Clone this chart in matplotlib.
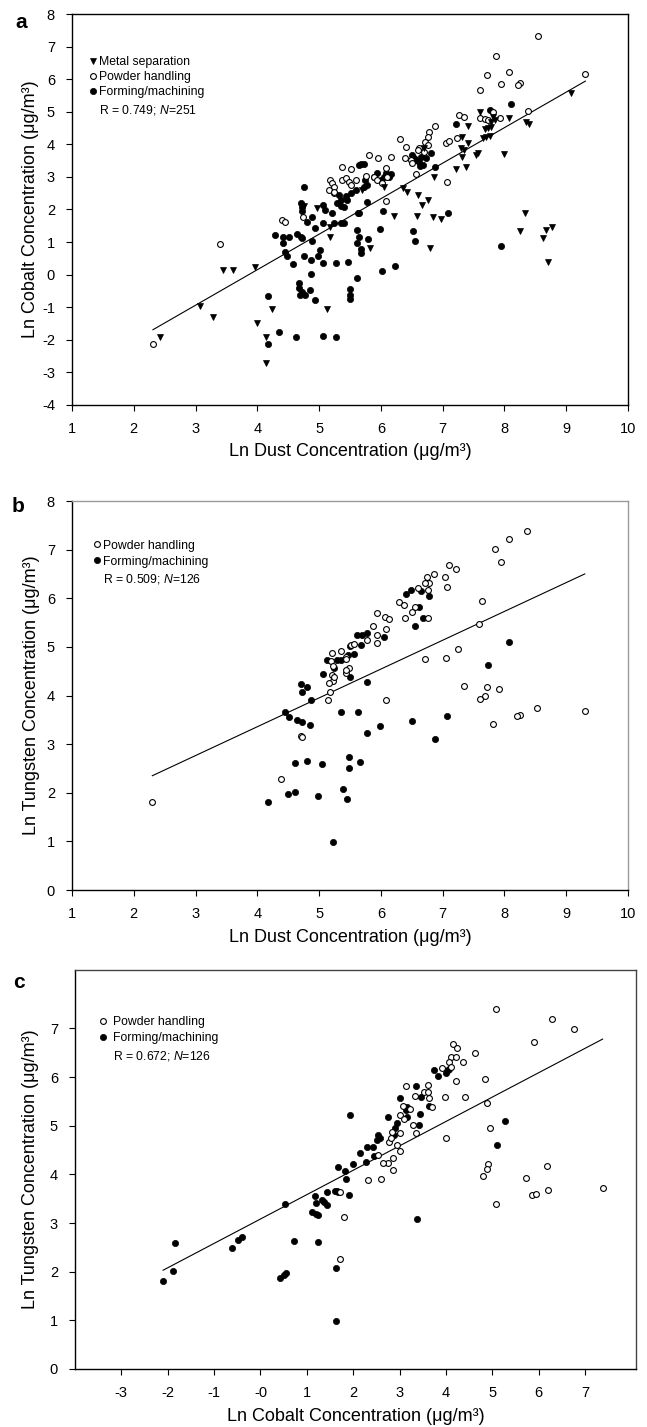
import matplotlib
matplotlib.use('Agg')
import matplotlib.pyplot as plt
from matplotlib.lines import Line2D

plt.rcParams['font.family'] = ['Liberation Sans', 'DejaVu Sans']
plt.rcParams['mathtext.fontset'] = 'custom'
plt.rcParams['mathtext.rm'] = 'Liberation Sans'
plt.rcParams['mathtext.it'] = 'Liberation Sans:italic'
plt.rcParams['axes.unicode_minus'] = False

# ---------------- Panel a : Ln dust (x) vs Ln cobalt (y) ----------------
a_metal_x = [2.42, 3.07, 3.29, 3.44, 3.60, 3.96, 4.00, 4.14, 4.14, 4.24, 5.12, 5.17, 5.18, 4.75, 4.96,
             9.07, 8.35, 8.39, 7.60, 7.82, 7.84, 7.79, 8.07, 7.68, 7.73, 7.79, 7.65, 7.70, 7.76, 7.41,
             7.32, 7.30, 7.35, 7.32, 7.41, 7.57, 7.54, 7.99, 7.22, 7.38, 6.86, 6.70, 6.60, 6.67, 6.77,
             6.58, 6.80, 6.85, 6.97, 6.21, 8.33, 8.25, 8.63, 8.68, 8.77, 8.71, 5.82, 6.35, 6.43, 5.70, 6.05]
a_metal_y = [-1.92, -0.95, -1.29, 0.13, 0.13, 0.23, -1.47, -1.90, -2.70, -1.05, -1.04, 1.17, 1.47, 2.10, 2.04,
             5.57, 4.70, 4.63, 5.00, 4.85, 4.75, 4.70, 4.82, 4.46, 4.49, 4.52, 4.19, 4.24, 4.26, 4.56,
             4.24, 3.88, 3.83, 3.62, 4.03, 3.73, 3.67, 3.71, 3.24, 3.29, 2.99, 3.88, 2.45, 2.14, 2.29,
             1.80, 0.83, 1.76, 1.71, 1.80, 1.90, 1.34, 1.12, 1.37, 1.47, 0.38, 0.83, 2.65, 2.55, 2.60, 2.70]

a_powder_x = [2.31, 3.40, 4.40, 4.45, 4.74, 5.37, 5.51, 5.18, 5.21, 5.24, 5.16, 5.24, 5.37, 5.43, 5.48,
              5.59, 5.51, 8.54, 7.86, 8.08, 7.72, 9.31, 7.95, 8.25, 8.22, 7.61, 8.38, 7.26, 7.34, 7.82,
              7.60, 7.68, 7.73, 7.92, 6.87, 6.78, 6.76, 6.72, 6.76, 6.62, 6.31, 6.40, 7.05, 7.11, 7.23,
              7.07, 6.39, 6.48, 6.51, 6.60, 6.70, 6.57, 6.09, 5.81, 5.96, 6.16, 5.89, 5.76, 5.94, 6.02,
              6.08, 6.10, 5.24]
a_powder_y = [-2.13, 0.94, 1.68, 1.61, 1.76, 3.30, 3.25, 2.91, 2.81, 2.70, 2.60, 2.52, 2.91, 2.96, 2.83,
              2.91, 2.76, 7.33, 6.71, 6.23, 6.13, 6.16, 5.84, 5.89, 5.82, 5.67, 5.03, 4.90, 4.85, 5.00,
              4.82, 4.78, 4.75, 4.82, 4.57, 4.37, 4.22, 4.08, 3.98, 3.88, 4.17, 3.93, 4.05, 4.10, 4.19,
              2.84, 3.57, 3.52, 3.44, 3.83, 3.78, 3.09, 2.26, 3.67, 3.59, 3.62, 3.01, 3.03, 2.91, 2.81,
              3.27, 3.01, 2.55]

a_forming_x = [4.18, 4.17, 4.35, 4.63, 5.07, 5.27, 4.93, 4.67, 4.67, 4.69, 4.77, 4.85, 4.72, 5.50, 5.50,
               5.62, 4.48, 4.58, 4.75, 4.87, 4.99, 5.02, 5.07, 5.27, 5.46, 4.87, 4.45, 4.28, 4.42, 4.42,
               4.52, 4.65, 4.70, 4.72, 4.88, 4.93, 5.07, 5.24, 5.40, 4.80, 4.72, 4.72, 4.70, 4.89, 5.07,
               5.10, 4.75, 5.21, 5.32, 5.35, 5.35, 5.43, 5.51, 5.45, 5.59, 5.29, 5.40, 5.64, 5.64, 5.62,
               5.64, 5.62, 8.10, 7.76, 7.22, 6.87, 6.51, 6.57, 6.62, 6.68, 6.64, 6.54, 6.65, 6.73, 6.81,
               7.09, 6.52, 6.55, 6.03, 5.99, 6.02, 6.23, 7.95, 5.79, 5.68, 5.68, 5.63, 5.78, 5.73, 5.78,
               5.75, 5.89, 6.00, 6.05, 6.13, 6.16, 6.08, 5.94, 5.67, 5.73, 5.35, 5.50]
a_forming_y = [-2.13, -0.64, -1.75, -1.92, -1.88, -1.90, -0.77, -0.27, -0.42, -0.62, -0.62, -0.47, -0.52, -0.44, -0.74,
               -0.11, 0.56, 0.32, 0.56, 0.45, 0.56, 0.76, 0.35, 0.37, 0.40, 0.02, 0.71, 1.22, 1.17, 0.98,
               1.17, 1.24, 1.17, 1.12, 1.02, 1.44, 1.60, 1.60, 1.60, 1.63, 1.94, 2.09, 2.19, 1.78, 2.14,
               1.99, 2.68, 1.89, 2.45, 2.29, 2.11, 2.40, 2.50, 2.29, 2.60, 2.19, 2.09, 3.37, 1.89, 1.37,
               1.17, 0.97, 5.23, 5.06, 4.63, 3.29, 3.67, 3.52, 3.47, 3.37, 3.32, 3.57, 3.62, 3.57, 3.73,
               1.89, 1.34, 1.04, 1.96, 1.40, 0.10, 0.28, 0.89, 1.10, 0.80, 0.66, 1.90, 2.22, 2.70, 2.75,
               2.91, 3.01, 2.91, 3.01, 3.01, 3.09, 3.11, 3.11, 3.40, 3.40, 1.58, -0.62]

a_fit_x = [2.31, 9.31]
a_fit_y = [-1.69, 5.94]

# ---------------- Panel b : Ln dust (x) vs Ln tungsten (y) ----------------
b_powder_x = [2.30, 4.38, 4.70, 4.72, 5.14, 5.17, 5.21, 5.20, 5.23, 5.21, 5.23, 5.16, 5.36, 5.44, 5.48,
              5.44, 5.51, 5.57, 8.37, 8.08, 7.85, 7.94, 7.10, 7.22, 6.86, 7.03, 7.07, 6.74, 6.78, 6.71,
              6.76, 6.60, 6.29, 6.38, 6.55, 6.50, 6.39, 6.76, 5.94, 6.07, 6.13, 6.09, 5.88, 5.94, 5.94,
              5.77, 5.43, 5.24, 5.43, 6.08, 6.72, 7.05, 7.25, 7.59, 7.64, 7.34, 7.72, 7.68, 7.60, 7.91,
              8.53, 8.25, 8.20, 9.30, 7.81]
b_powder_y = [1.82, 2.28, 3.17, 3.14, 3.91, 4.08, 4.88, 4.70, 4.60, 4.42, 4.29, 4.25, 4.92, 4.80, 4.56,
              4.47, 5.04, 5.06, 7.39, 7.21, 7.01, 6.74, 6.69, 6.60, 6.50, 6.43, 6.23, 6.43, 6.32, 6.32,
              6.17, 6.21, 5.93, 5.86, 5.83, 5.71, 5.60, 5.59, 5.70, 5.62, 5.57, 5.36, 5.42, 5.25, 5.08,
              5.14, 4.75, 4.39, 4.53, 3.90, 4.75, 4.78, 4.96, 5.47, 5.95, 4.20, 4.18, 3.98, 3.93, 4.13,
              3.74, 3.60, 3.57, 3.68, 3.41]

b_forming_x = [4.17, 4.49, 4.61, 4.61, 4.81, 5.05, 4.99, 5.39, 5.45, 5.48, 5.48, 5.23, 5.66, 5.36, 5.63,
               4.45, 4.51, 4.64, 4.72, 4.86, 4.70, 4.72, 4.80, 4.87, 5.07, 5.13, 5.24, 5.29, 5.36, 5.46,
               5.56, 5.62, 5.50, 6.40, 6.49, 6.65, 6.78, 6.62, 6.68, 6.55, 5.70, 5.78, 6.05, 5.67, 5.50,
               5.77, 5.77, 5.98, 6.51, 7.07, 6.88, 8.08, 7.74]
b_forming_y = [1.82, 1.98, 2.02, 2.61, 2.65, 2.59, 1.93, 2.07, 1.87, 2.73, 2.50, 0.99, 2.64, 3.67, 3.67,
               3.67, 3.55, 3.50, 3.46, 3.40, 4.24, 4.08, 4.17, 3.91, 4.44, 4.73, 4.56, 4.73, 4.73, 4.84,
               4.86, 5.25, 5.01, 6.09, 6.16, 6.15, 6.04, 5.83, 5.60, 5.42, 5.25, 5.28, 5.21, 5.04, 4.39,
               4.27, 3.22, 3.37, 3.48, 3.58, 3.10, 5.10, 4.63]

b_fit_x = [2.30, 9.30]
b_fit_y = [2.35, 6.50]

# ---------------- Panel c : Ln cobalt (x) vs Ln tungsten (y) ----------------
c_powder_x = [1.71, 1.81, 1.72, 5.08, 6.29, 6.76, 5.89, 4.16, 4.24, 4.10, 4.21, 4.07, 4.36, 4.12, 4.62,
              3.91, 4.22, 4.84, 3.14, 3.33, 3.53, 3.62, 3.62, 3.63, 3.71, 3.98, 4.42, 3.08, 3.23, 3.01,
              3.10, 3.30, 3.35, 3.01, 2.83, 2.94, 2.78, 2.82, 3.01, 2.85, 2.76, 2.65, 2.85, 2.61, 2.31,
              2.54, 4.00, 4.88, 4.95, 4.91, 4.88, 4.80, 5.72, 6.17, 6.21, 5.86, 5.94, 5.08, 7.38]
c_powder_y = [2.27, 3.13, 3.63, 7.39, 7.20, 6.99, 6.72, 6.67, 6.59, 6.41, 6.41, 6.31, 6.31, 6.21, 6.50,
              6.19, 5.91, 5.95, 5.81, 5.61, 5.69, 5.83, 5.69, 5.56, 5.39, 5.59, 5.58, 5.40, 5.35, 5.21,
              5.13, 5.01, 4.85, 4.85, 4.87, 4.60, 4.67, 4.75, 4.48, 4.33, 4.24, 4.24, 4.09, 3.90, 3.88,
              4.39, 4.75, 5.46, 4.96, 4.21, 4.12, 3.97, 3.93, 4.17, 3.68, 3.57, 3.59, 3.40, 3.72]

c_forming_x = [-2.10, -1.89, -1.85, -0.62, -0.48, -0.39, 0.43, 0.50, 0.56, 0.54, 0.72, 1.24, 1.63, 1.63, 1.12,
               1.20, 1.25, 1.18, 1.20, 1.33, 1.36, 1.43, 1.43, 1.61, 1.68, 1.92, 1.67, 1.83, 1.84, 2.00,
               2.15, 1.94, 3.74, 3.83, 4.01, 4.05, 4.07, 3.35, 3.46, 3.01, 3.64, 3.44, 3.43, 2.76, 3.14,
               3.15, 3.17, 2.94, 2.90, 2.87, 2.54, 2.58, 2.51, 2.43, 2.30, 2.28, 2.45, 3.37, 5.11, 5.28,
               1.65]
c_forming_y = [1.81, 2.02, 2.58, 2.49, 2.65, 2.72, 1.86, 1.93, 1.98, 3.39, 2.63, 2.61, 2.07, 0.99, 3.22,
               3.18, 3.16, 3.55, 3.41, 3.48, 3.44, 3.37, 3.64, 3.65, 3.64, 3.57, 4.15, 4.07, 3.90, 4.22,
               4.43, 5.23, 6.14, 6.02, 6.09, 6.14, 6.17, 5.81, 5.59, 5.56, 5.40, 5.24, 5.02, 5.17, 5.32,
               5.18, 5.39, 5.05, 4.95, 4.81, 4.81, 4.74, 4.70, 4.57, 4.56, 4.26, 4.38, 3.08, 4.61, 5.09,
               3.66]

c_fit_x = [-2.10, 7.38]
c_fit_y = [2.03, 6.78]

ab_xticks = [1, 2, 3, 4, 5, 6, 7, 8, 9, 10]
a_yticks = [-4, -3, -2, -1, 0, 1, 2, 3, 4, 5, 6, 7, 8]
b_yticks = [0, 1, 2, 3, 4, 5, 6, 7, 8]
c_xticks = [-3, -2, -1, 0, 1, 2, 3, 4, 5, 6, 7]
c_xticklabels = ['-3', '-2', '-1', '-0', '1', '2', '3', '4', '5', '6', '7']
c_yticks = [0, 1, 2, 3, 4, 5, 6, 7]

# ---------------- drawing ----------------
W, H = 647, 1427
fig = plt.figure(figsize=(W / 100, H / 100), dpi=100)


def make_axes(l, r, t, b):
    return fig.add_axes([l / W, 1 - b / H, (r - l) / W, (b - t) / H])


FILLED = dict(ls='none', marker='o', ms=4.5, mfc='black', mec='black', mew=0.5)
OPEN = dict(ls='none', marker='o', ms=4.2, mfc='white', mec='black', mew=0.8)
TRI = dict(ls='none', marker='v', ms=4.8, mfc='black', mec='black', mew=0.5)
LEGFS = 8.8


def style(ax, top_color):
    for side in ['left', 'bottom']:
        ax.spines[side].set_linewidth(1.0)
        ax.spines[side].set_color('black')
    for side in ['top', 'right']:
        ax.spines[side].set_linewidth(1.0)
        ax.spines[side].set_color(top_color)
    ax.tick_params(direction='out', length=4.3, width=0.8, pad=8, labelsize=10.5,
                   top=False, right=False)


def labels(ax, xl, yl, xly, ylx):
    ax.set_xlabel(xl, fontsize=13)
    ax.set_ylabel(yl, fontsize=13)
    ax.xaxis.set_label_coords(0.5, xly)
    ax.yaxis.set_label_coords(ylx, 0.5)
    ax.xaxis.label.set_verticalalignment('center')
    ax.yaxis.label.set_verticalalignment('center')


def legend(ax, handles, names, anchor, spacing, textpad, rtext, rpos):
    ax.legend(handles, names, loc='upper left', bbox_to_anchor=anchor, frameon=False,
              fontsize=LEGFS, borderpad=0, borderaxespad=0, handlelength=0.8,
              handletextpad=textpad, labelspacing=spacing)
    ax.text(rpos[0], rpos[1], rtext, transform=ax.transAxes, fontsize=LEGFS,
            ha='left', va='center')


h_tri = Line2D([], [], **TRI)
h_open = Line2D([], [], **OPEN)
h_fill = Line2D([], [], **FILLED)

# Panel a
ax = make_axes(72, 628, 14, 405)
ax.plot(a_fit_x, a_fit_y, color='black', lw=0.8)
ax.plot(a_forming_x, a_forming_y, **FILLED)
ax.plot(a_powder_x, a_powder_y, **OPEN)
ax.plot(a_metal_x, a_metal_y, **TRI)
ax.set_xlim(1, 10)
ax.set_ylim(-4, 8)
ax.set_xticks(ab_xticks)
ax.set_yticks(a_yticks)
style(ax, 'black')
labels(ax, 'Ln Dust Concentration (\u03bcg/m\u00b3)', 'Ln Cobalt Concentration (\u03bcg/m\u00b3)', -0.120, -0.074)
legend(ax, [h_tri, h_open, h_fill], ['Metal separation', 'Powder handling', 'Forming/machining'],
       (0.029, 0.893), 0.25, 0.10, 'R = 0.749; $\\it{N}$=251', (0.049, 0.7545))

# Panel b
ax = make_axes(72, 628, 501, 890)
ax.plot(b_fit_x, b_fit_y, color='black', lw=0.8)
ax.plot(b_forming_x, b_forming_y, **FILLED)
ax.plot(b_powder_x, b_powder_y, **OPEN)
ax.set_xlim(1, 10)
ax.set_ylim(0, 8)
ax.set_xticks(ab_xticks)
ax.set_yticks(b_yticks)
style(ax, '#9a9a9a')
labels(ax, 'Ln Dust Concentration (\u03bcg/m\u00b3)', 'Ln Tungsten Concentration (\u03bcg/m\u00b3)', -0.121, -0.0725)
legend(ax, [h_open, h_fill], ['Powder handling', 'Forming/machining'],
       (0.036, 0.901), 0.34, 0.10, 'R = 0.509; $\\it{N}$=126', (0.056, 0.7995))

# Panel c
ax = make_axes(75, 636, 970, 1369)
ax.plot(c_fit_x, c_fit_y, color='black', lw=0.8)
ax.plot(c_forming_x, c_forming_y, **FILLED)
ax.plot(c_powder_x, c_powder_y, **OPEN)
ax.set_xlim(-4, 8.1)
ax.set_ylim(0, 8.2)
ax.set_xticks(c_xticks)
ax.set_xticklabels(c_xticklabels)
ax.set_yticks(c_yticks)
style(ax, '#444444')
labels(ax, 'Ln Cobalt Concentration (\u03bcg/m\u00b3)', 'Ln Tungsten Concentration (\u03bcg/m\u00b3)', -0.120, -0.080)
legend(ax, [h_open, h_fill], ['Powder handling', 'Forming/machining'],
       (0.0406, 0.884), 0.29, 0.47, 'R = 0.672; $\\it{N}$=126', (0.068, 0.785))

for letter, x, y in [('a', 21, 22), ('b', 18, 507), ('c', 19, 983)]:
    fig.text(x / W, 1 - y / H, letter, ha='center', va='center', fontsize=15, fontweight='bold')

fig.savefig('out.png', dpi=100)
